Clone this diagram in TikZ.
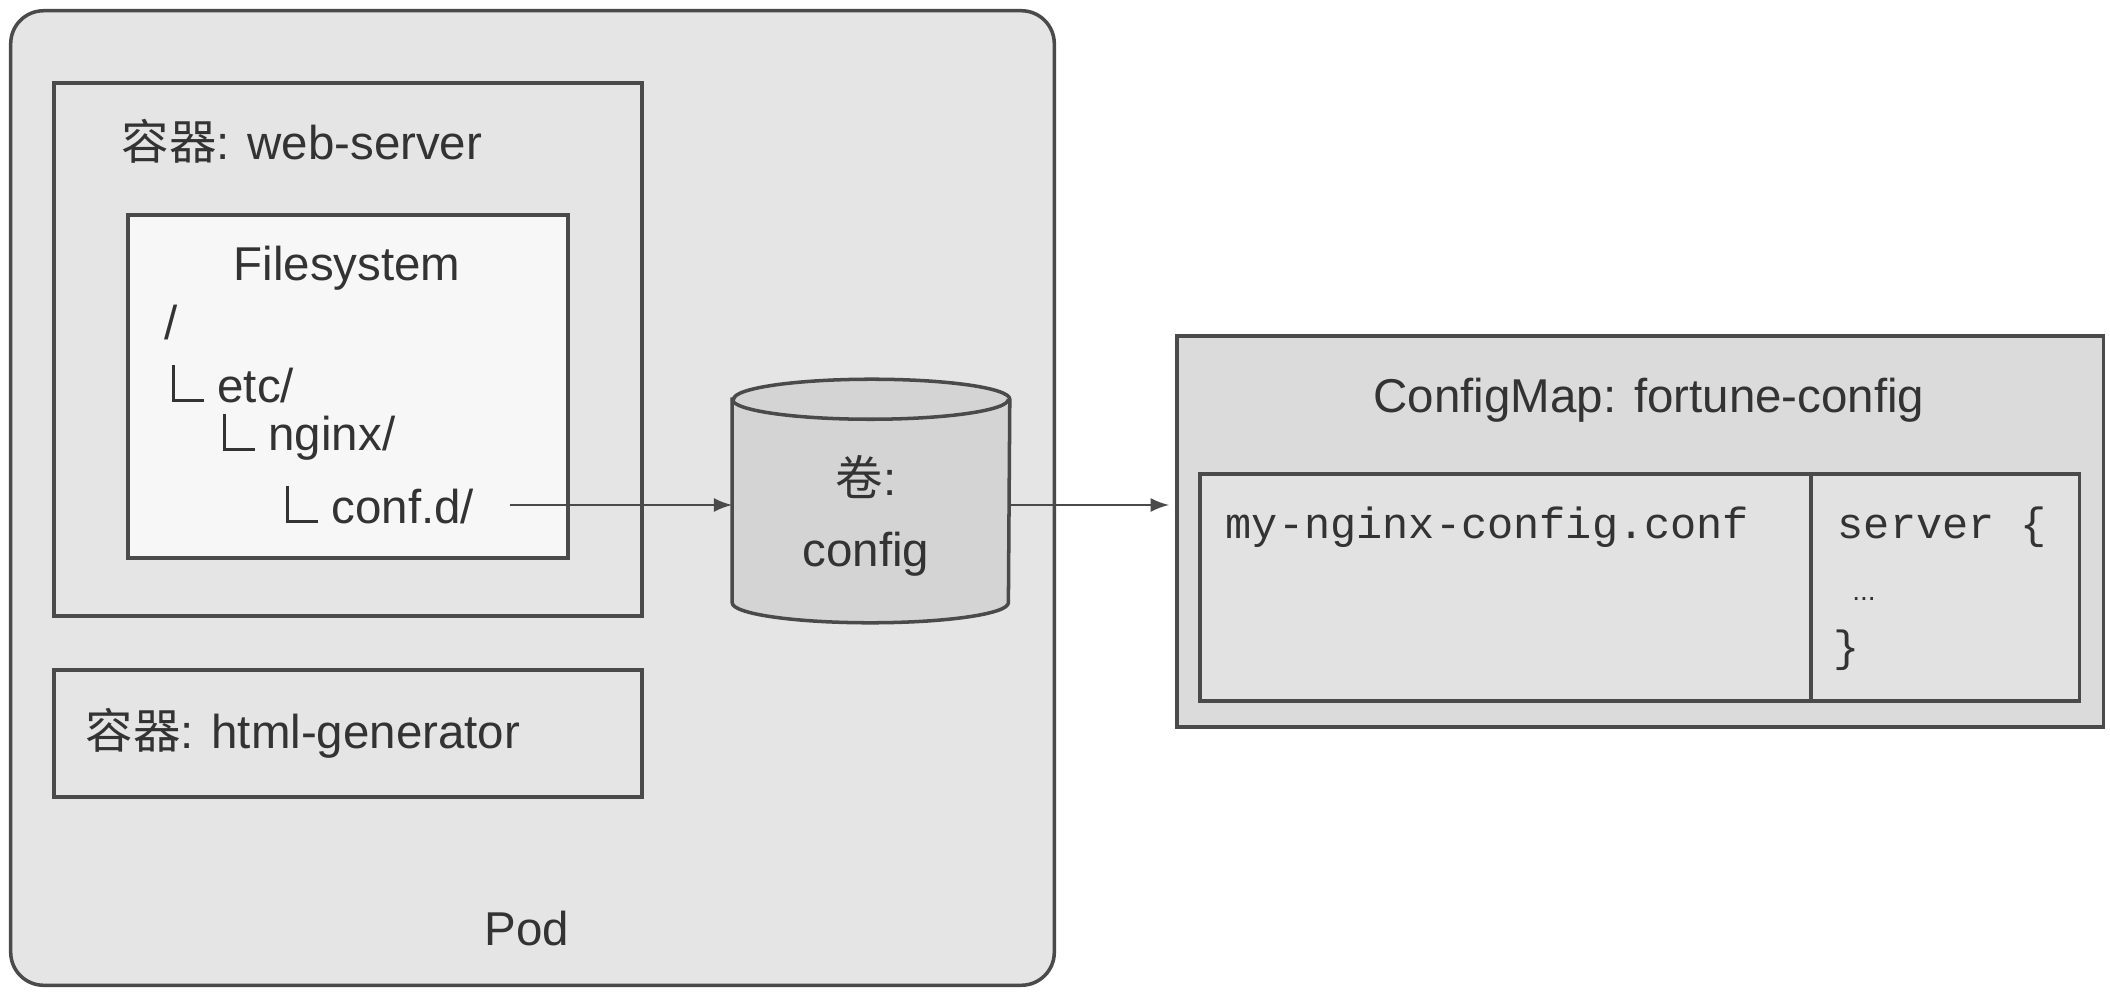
\documentclass[tikz,border=0pt]{standalone}
\usepackage{fontspec}
\setmainfont{Liberation Sans}
\setmonofont{Liberation Mono}
\newfontfamily\cjk{Noto Sans CJK SC}

\definecolor{podgray}{HTML}{E5E5E5}
\definecolor{fsgray}{HTML}{F7F7F7}
\definecolor{volgray}{HTML}{D4D4D4}
\definecolor{cmgray}{HTML}{DBDBDB}
\definecolor{linegray}{HTML}{4A4A4A}
\definecolor{textgray}{HTML}{333333}

\newcommand\treebranch{\rule{0.8pt}{10.5pt}\rule{8.5pt}{0.8pt}}

\begin{document}
\begin{tikzpicture}[x=0.01cm, y=-0.01cm,
  box/.style={draw=linegray, line width=1pt, fill=podgray, inner sep=0pt},
  lbl/.style={text=textgray, font=\fontsize{13.5}{16}\selectfont, inner sep=0pt},
  code/.style={text=textgray, font=\ttfamily\fontsize{12.4}{15}\selectfont, inner sep=0pt},
  link/.style={draw=linegray, line width=0.8pt, -latex}]
\useasboundingbox (0,0) rectangle (2110,994);

\node[box, rounded corners=0.33cm, minimum width=10.43cm, minimum height=9.74cm] (pod) at (532.5,498) {};
\node[box, minimum width=5.88cm, minimum height=5.33cm] (web) at (348,349.5) {};
\node[box, fill=fsgray, minimum width=4.40cm, minimum height=3.43cm] (fs) at (348,386.5) {};
\node[box, minimum width=5.88cm, minimum height=1.27cm] (html) at (348,733.5) {};

\node[lbl, anchor=west] (weblabel) at (121,141) {{\cjk 容器}: web-server};
\node[lbl, anchor=west] (htmllabel) at (85,733) {{\cjk 容器}: html-generator};
\node[lbl] (fstitle) at (347,268) {Filesystem};
\node[lbl] (podlabel) at (527,929) {Pod};

\node[lbl, anchor=west] (root) at (164,323) {/};
\node[lbl, anchor=west] (etc) at (171,384) {\treebranch\ etc/};
\node[lbl, anchor=west] (nginx) at (222,437) {\treebranch\ nginx/};
\node[lbl, anchor=west] (confd) at (285,505) {\treebranch\ conf.d/};

% volume drawn as a cylinder round an empty node
\node[inner sep=0pt, minimum width=2.76cm, minimum height=2.42cm] (vol) at (871,501) {};
\draw[draw=linegray, line width=1pt, fill=volgray]
  ([yshift=-0.2cm]vol.north west) -- ([yshift=0.2cm]vol.south west)
  arc[start angle=180, end angle=360, x radius=1.38cm, y radius=0.2cm]
  -- ([yshift=-0.2cm]vol.north east)
  arc[start angle=0, end angle=180, x radius=1.38cm, y radius=0.2cm] -- cycle;
\draw[draw=linegray, line width=1pt] ([yshift=-0.2cm]vol.north west)
  arc[start angle=180, end angle=360, x radius=1.38cm, y radius=0.2cm];
\node[lbl, align=center] (vollabel) at (866,516) {{\cjk 卷}:\\[4pt]config};

\node[box, fill=cmgray, minimum width=9.26cm, minimum height=3.91cm] (cm) at (1640,531.5) {};
\node[lbl] (cmlabel) at (1649,400) {ConfigMap: fortune-config};
\node[box, fill=cmgray!80!white, minimum width=8.79cm, minimum height=2.27cm] (table) at (1639.5,587.5) {};
\coordinate (split) at (1811,474);
\draw[linegray, line width=1pt] (split) -- (split |- table.south);

\node[code, anchor=base west] (file) at (1225,538) {my-nginx-config.conf};
\node[code, anchor=base west] (server) at (1837,538) {server \{};
\node[lbl, font=\fontsize{8}{10}\selectfont] (dots) at (1864,599) {...};
\node[code] (brace) at (1847,650) {\}};

\draw[link, shorten <=0.35cm] (confd.east) -- (confd.east -| vol.west);
\draw[link, shorten >=0.06cm] (confd.east -| vol.east) -- (confd.east -| cm.west);
\end{tikzpicture}
\end{document}
